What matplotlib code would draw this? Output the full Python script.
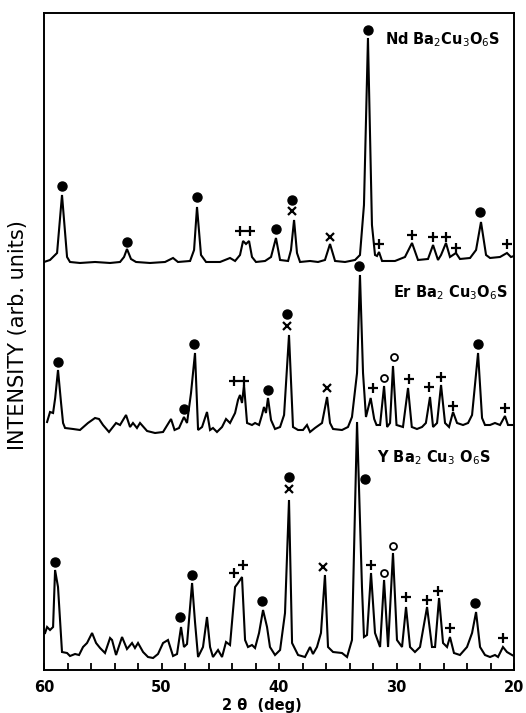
import numpy as np
import matplotlib
matplotlib.use('Agg')
import matplotlib.pyplot as plt

# --- NdBa2Cu3O6S trace (2theta in deg, intensity arb. units above its baseline)
nd_theta = [60.0, 59.49, 58.89, 58.47, 58.04, 57.79, 56.94, 55.66, 54.38, 53.53, 53.19, 52.94, 52.6,
            52.17, 50.98, 49.7, 49.02, 48.6, 47.57, 47.23, 46.98, 46.64, 46.21, 45.02, 44.17, 43.74,
            43.32, 43.06, 42.81, 42.55, 42.3, 41.96, 41.19, 40.68, 40.26, 39.91, 39.23, 38.98, 38.72,
            38.47, 38.21, 37.36, 36.68, 36.09, 35.66, 35.23, 34.38, 33.53, 33.11, 32.77, 32.43, 32.09,
            31.83, 31.66, 31.49, 31.23, 30.13, 29.28, 28.68, 28.17, 27.32, 26.89, 26.47, 26.21, 25.79,
            25.45, 24.94, 24.6, 23.74, 23.23, 22.81, 22.38, 22.04, 21.19, 20.6, 20.26, 20.0]
nd_int = [3, 5, 12, 70, 8, 3, 2, 3, 2, 3, 8, 16, 6,
          3, 2, 3, 7, 3, 4, 15, 58, 10, 3, 3, 7, 4,
          10, 24, 21, 24, 8, 3, 4, 8, 27, 5, 4, 15, 45,
          12, 3, 4, 3, 5, 21, 4, 3, 5, 10, 60, 227, 40,
          10, 9, 13, 4, 4, 8, 22, 5, 6, 20, 5, 10, 22,
          8, 12, 6, 7, 15, 43, 10, 7, 8, 12, 8, 9]

# --- ErBa2Cu3O6S trace
er_theta = [59.74, 59.49, 59.23, 59.05, 58.81, 58.55, 58.38, 58.21, 57.53, 56.94, 56.26, 55.66, 55.32,
            54.98, 54.47, 53.87, 53.53, 53.02, 52.68, 52.43, 52.09, 51.83, 51.23, 50.55, 49.87, 49.19,
            48.89, 48.51, 48.09, 47.83, 47.49, 47.15, 46.89, 46.55, 46.13, 45.87, 45.62, 45.28, 44.85,
            44.51, 44.17, 43.74, 43.49, 43.32, 43.15, 42.98, 42.72, 42.3, 42.04, 41.7, 41.45, 41.28,
            41.11, 40.94, 40.68, 40.34, 39.91, 39.57, 39.15, 38.81, 38.38, 37.96, 37.62, 37.36, 36.94,
            36.34, 35.91, 35.66, 35.4, 34.64, 34.13, 33.79, 33.36, 33.11, 32.85, 32.6, 32.2, 31.9,
            31.7, 31.4, 31.06, 30.8, 30.55, 30.3, 30.0, 29.45, 29.02, 28.7, 28.26, 27.83, 27.5,
            27.15, 26.89, 26.55, 26.21, 25.87, 25.53, 25.19, 24.85, 24.34, 23.91, 23.57, 23.06, 22.72,
            22.47, 22.04, 21.62, 21.19, 20.77, 20.51, 20.0]
er_int = [11, 21, 20, 35, 63, 30, 10, 5, 4, 3, 10, 15, 14,
          8, 1, 10, 8, 18, 6, 10, 5, 10, 2, 0, 1, 14,
          3, 5, 16, 10, 40, 80, 3, 6, 21, 3, 5, 1, 6,
          14, 10, 20, 33, 38, 30, 48, 10, 8, 10, 8, 18, 26,
          20, 35, 13, 4, 6, 18, 98, 6, 3, 3, 8, 1, 5,
          10, 36, 10, 4, 3, 6, 16, 60, 158, 60, 16, 35, 14,
          8, 8, 47, 6, 10, 67, 8, 6, 45, 6, 4, 6, 10,
          36, 6, 10, 48, 10, 6, 21, 10, 8, 10, 18, 80, 15,
          8, 8, 10, 8, 17, 8, 8]

# --- YBa2Cu3O6S trace
y_theta = [59.91, 59.74, 59.49, 59.23, 59.06, 58.81, 58.47, 58.04, 57.79, 57.36, 57.02, 56.68, 56.34,
           55.91, 55.57, 55.23, 54.81, 54.38, 54.21, 53.87, 53.36, 52.94, 52.51, 52.26, 52.0, 51.57,
           51.15, 50.72, 50.3, 49.87, 49.45, 49.02, 48.68, 48.34, 48.09, 47.83, 47.4, 47.15, 46.89,
           46.47, 46.13, 45.87, 45.62, 45.19, 44.85, 44.51, 44.17, 43.74, 43.49, 43.15, 42.89, 42.64,
           42.3, 42.04, 41.7, 41.36, 41.02, 40.77, 40.34, 39.91, 39.49, 39.15, 38.89, 38.38, 37.79,
           37.36, 37.11, 36.77, 36.43, 36.09, 35.83, 35.4, 34.64, 34.21, 33.79, 33.53, 33.36, 32.94,
           32.77, 32.51, 32.17, 31.83, 31.4, 31.06, 30.72, 30.3, 29.96, 29.53, 29.19, 28.85, 28.43,
           28.0, 27.4, 26.98, 26.72, 26.38, 26.04, 25.7, 25.45, 25.11, 24.6, 24.0, 23.57, 23.23,
           22.89, 22.47, 22.04, 21.62, 21.36, 20.94, 20.6, 20.17, 20.0]
y_int = [29, 35, 32, 35, 92, 75, 10, 9, 6, 8, 7, 15, 19,
         29, 19, 14, 9, 24, 22, 7, 25, 13, 19, 14, 19, 10,
         5, 4, 8, 19, 22, 6, 8, 35, 15, 18, 79, 40, 5,
         15, 45, 15, 5, 12, 5, 20, 17, 75, 79, 85, 22, 15,
         17, 14, 29, 52, 35, 15, 7, 12, 49, 162, 19, 7, 5,
         15, 8, 15, 29, 87, 15, 10, 9, 5, 22, 155, 240, 75,
         25, 27, 89, 29, 15, 82, 15, 109, 22, 15, 55, 15, 10,
         15, 55, 15, 15, 64, 19, 15, 25, 9, 7, 15, 29, 50,
         15, 7, 5, 7, 5, 15, 10, 7, 6]

# --- phase markers: position, height, symbol (o = filled dot, c = open circle)
nd_mk_theta = [58.47, 52.94, 46.98, 43.32, 42.47, 40.26, 38.89, 38.89, 35.66, 32.43, 31.49,
               28.68, 26.89, 25.79, 24.94, 22.89, 20.6]
nd_mk_int = [79, 23, 68, 34, 34, 36, 65, 54, 28, 235, 21,
             30, 28, 28, 17, 53, 21]
nd_mk_sym = ['o', 'o', 'o', '+', '+', 'o', 'o', 'x', 'x', 'o', '+',
             '+', '+', '+', '+', 'o', '+']

er_mk_theta = [58.81, 48.09, 47.23, 43.83, 42.98, 40.94, 39.32, 39.32, 35.91, 33.19, 32.0,
               31.06, 30.21, 28.94, 27.23, 26.21, 25.19, 23.06, 20.77]
er_mk_int = [71, 24, 89, 52, 52, 43, 119, 107, 45, 167, 45,
             55, 76, 54, 46, 56, 27, 89, 25]
er_mk_sym = ['o', 'o', 'o', '+', '+', 'o', 'o', 'x', 'x', 'o', '+',
             'c', 'c', '+', '+', '+', '+', 'o', '+']

y_mk_theta = [59.06, 48.43, 47.4, 43.83, 43.06, 41.45, 39.15, 39.15, 36.26, 32.68, 32.17,
              31.06, 30.3, 29.19, 27.4, 26.47, 25.45, 23.32, 20.94]
y_mk_int = [100, 45, 87, 89, 97, 61, 185, 173, 95, 183, 97,
            89, 116, 65, 62, 71, 34, 59, 24]
y_mk_sym = ['o', 'o', 'o', '+', '+', 'o', 'o', 'x', 'x', 'o', '+',
            'c', 'c', '+', '+', '+', '+', 'o', '+']

fig = plt.figure(figsize=(5.26, 7.13), dpi=100)
ax = fig.add_axes([0.0837, 0.0603, 0.8935, 0.9215])

# vertical offsets of the three stacked patterns
offsets = [405, 237, 8]
traces = [(nd_theta, nd_int, nd_mk_theta, nd_mk_int, nd_mk_sym),
          (er_theta, er_int, er_mk_theta, er_mk_int, er_mk_sym),
          (y_theta, y_int, y_mk_theta, y_mk_int, y_mk_sym)]

styles = {
    'o': dict(marker='o', ms=6.5, mfc='black', mec='black'),
    'c': dict(marker='o', ms=5, mfc='white', mec='black', mew=1.3),
    '+': dict(marker='+', ms=7, mec='black', mew=1.6),
    'x': dict(marker='x', ms=5.5, mec='black', mew=1.6),
}

for (th, it, mt, mi, ms), off in zip(traces, offsets):
    ax.plot(th, np.array(it) + off, color='black', lw=1.5, solid_joinstyle='miter')
    for t, i, s in zip(mt, mi, ms):
        ax.plot([t], [i + off], ls='none', **styles[s])

ax.text(0.7255, 0.959, r'Nd Ba$_2$Cu$_3$O$_6$S', transform=ax.transAxes,
        ha='left', va='center', fontsize=10.5, fontweight='bold')
ax.text(0.7426, 0.574, r'Er Ba$_2$ Cu$_3$O$_6$S', transform=ax.transAxes,
        ha='left', va='center', fontsize=10.5, fontweight='bold')
ax.text(0.7085, 0.3227, r'Y Ba$_2$ Cu$_3$ O$_6$S', transform=ax.transAxes,
        ha='left', va='center', fontsize=10.5, fontweight='bold')

ax.set_xlim(60, 20)
ax.set_ylim(0, 657)
ax.set_xticks([60, 50, 40, 30, 20])
ax.set_xticks(np.arange(20, 61, 2), minor=True)
ax.set_xticklabels(['60', '50', '40', '30', '20'], fontsize=10.5, fontweight='bold')
ax.tick_params(axis='x', which='both', direction='in', length=5, width=1.3, pad=7)
ax.set_yticks([])
for sp in ax.spines.values():
    sp.set_linewidth(1.4)

ax.set_xlabel('2 θ  (deg)', fontsize=10.5, fontweight='bold')
ax.xaxis.set_label_coords(0.464, -0.043)
ax.set_ylabel('INTENSITY (arb. units)', fontsize=15)
ax.yaxis.set_label_coords(-0.035, 0.51)

fig.savefig('out.png', dpi=100)
